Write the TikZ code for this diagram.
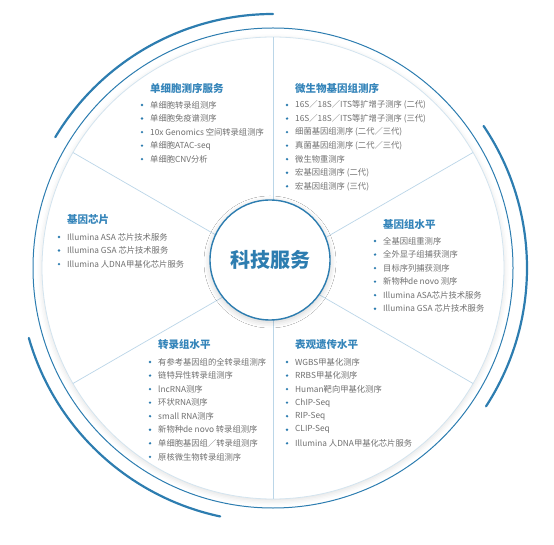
\documentclass[tikz,border=0pt]{standalone}
\usepackage{fontspec}
\setmainfont{Noto Sans CJK SC}
\usetikzlibrary{shadows.blur}
\definecolor{tblue}{HTML}{2D7DB0}
\definecolor{ttitle}{HTML}{3585BA}
\definecolor{tgrey}{HTML}{707070}
\definecolor{tspoke}{HTML}{BBD6E8}
\definecolor{tring}{HTML}{D3E4EF}
\tikzset{
  spoke/.style={draw=tspoke, line width=0.7pt},
  thickarc/.style={draw=tblue, line width=2.2pt, line cap=round},
  titletext/.style={anchor=west, inner sep=0pt, text=ttitle, font=\fontsize{10.5}{12}\selectfont\bfseries},
  itemtext/.style={anchor=west, inner sep=0pt, text=tgrey, font=\fontsize{8.3}{10}\selectfont},
  bul/.style={fill=tblue}
}
\newcommand\svcblock[5]{%
  \node[titletext] (#1-t) at (#2,#3) {#4};
  \foreach \t [count=\i from 0] in {#5} {
    \node[itemtext] (#1-\i) at (#2,{#3-17-\i*13.55}) {\t};
    \fill[bul] ([xshift=-8pt]#1-\i.west) circle (1.3pt);
  }
}
\begin{document}
\begin{tikzpicture}[x=1pt,y=1pt]
\useasboundingbox (0,0) rectangle (554,544);
\coordinate (C) at (273,276);
% outer white disk
\fill[white, blur shadow={shadow xshift=0pt, shadow yshift=-2pt, shadow blur radius=5pt, shadow opacity=12}] (C) circle (231);
\draw[tring, line width=0.8pt] (C) circle (231);
\draw[tblue, line width=1pt] (C) circle (240);
% thick arcs
\draw[thickarc] (C) ++(90:254) arc[start angle=90, end angle=149, radius=254];
\draw[thickarc] (C) ++(-33:254) arc[start angle=-33, end angle=34, radius=254];
\draw[thickarc] (C) ++(196:254) arc[start angle=196, end angle=258, radius=254];
% spokes
\foreach \a [count=\k] in {90,30,-30,-90,-150,150} {
  \path (C) ++(\a:231) coordinate (s\k);
  \draw[spoke] (C) -- (s\k);
}
% center
\node[circle, minimum size=120pt, fill=white, draw=tblue, line width=1.4pt,
  blur shadow={shadow xshift=0pt, shadow yshift=-2pt, shadow blur radius=6pt, shadow opacity=20},
  text=tblue, font=\fontsize{20}{24}\selectfont\bfseries] (core) at (270,284) {科技服务};
% blocks
\svcblock{sc}{150}{456}{单细胞测序服务}{单细胞转录组测序,单细胞免疫谱测序,10x Genomics 空间转录组测序,单细胞ATAC-seq,单细胞CNV分析}
\svcblock{mb}{295}{456}{微生物基因组测序}{16S／18S／ITS等扩增子测序 (二代),16S／18S／ITS等扩增子测序 (三代),细菌基因组测序 (二代／三代),真菌基因组测序 (二代／三代),微生物重测序,宏基因组测序 (二代),宏基因组测序 (三代)}
\svcblock{gc}{67}{324}{基因芯片}{Illumina ASA 芯片技术服务,Illumina GSA 芯片技术服务,Illumina 人DNA甲基化芯片服务}
\svcblock{gn}{383}{320}{基因组水平}{全基因组重测序,全外显子组捕获测序,目标序列捕获测序,新物种de novo 测序,Illumina ASA芯片技术服务,Illumina GSA 芯片技术服务}
\svcblock{tr}{158}{199}{转录组水平}{有参考基因组的全转录组测序,链特异性转录组测序,lncRNA测序,环状RNA测序,small RNA测序,新物种de novo 转录组测序,单细胞基因组／转录组测序,原核微生物转录组测序}
\svcblock{ep}{295}{199}{表观遗传水平}{WGBS甲基化测序,RRBS甲基化测序,Human靶向甲基化测序,ChIP-Seq,RIP-Seq,CLIP-Seq,Illumina 人DNA甲基化芯片服务}
\end{tikzpicture}
\end{document}
